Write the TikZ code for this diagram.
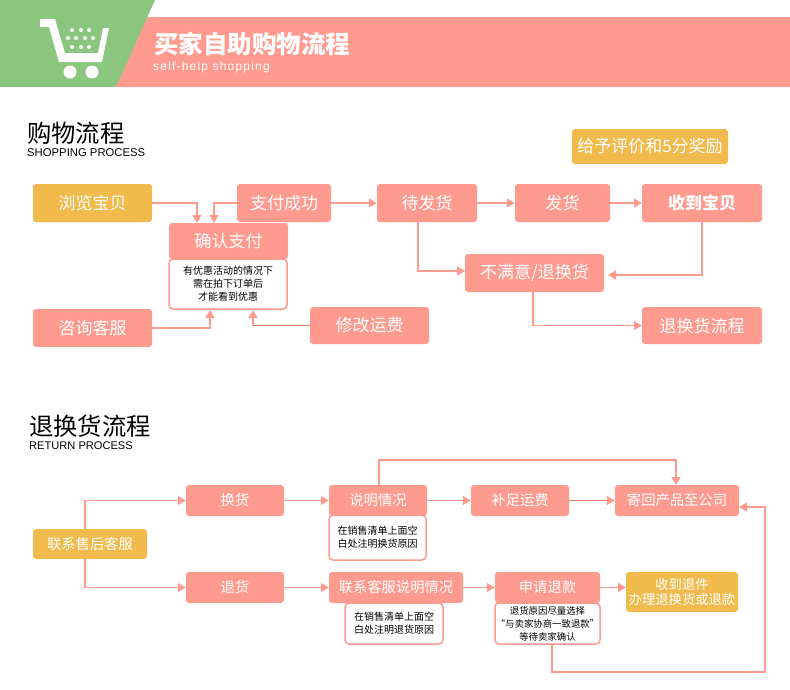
\documentclass[tikz,border=0pt]{standalone}
\usepackage{fontspec}
\setmainfont{Noto Sans CJK SC}
\newfontfamily\latinsans{Liberation Sans}
\usetikzlibrary{arrows.meta,positioning}
\definecolor{salmon}{HTML}{FF9A8F}
\definecolor{leaf}{HTML}{8BC67E}
\definecolor{gold}{HTML}{F0BB4C}
\definecolor{deep}{HTML}{F8786C}
\newcommand{\pxfs}[1]{\fontsize{#1}{#1}\selectfont}
\tikzset{
  x=1pt,y=-1pt,
  flowbox/.style={fill=salmon,rounded corners=3pt,text=white,inner sep=0pt,align=center,font=\pxfs{17}},
  goldbox/.style={flowbox,fill=gold},
  smallbox/.style={flowbox,font=\pxfs{14.3}},
  goldsmall/.style={goldbox,font=\pxfs{14.3}},
  donebox/.style={goldbox,font=\fontsize{13.3}{15}\selectfont},
  notebox/.style={draw=salmon,line width=1.5pt,fill=white,rounded corners=4pt,text=black,inner sep=0pt,align=center,font=\fontsize{10}{13}\selectfont},
  notetight/.style={notebox,font=\fontsize{9.4}{13}\selectfont},
  arr/.style={draw=salmon,line width=1.5pt,-{Triangle[length=8pt,width=9pt]}},
  dark/.style={draw=deep,line width=1.5pt},
}
% box macro: name, style, x0, y0, x1, y1, text
\newcommand{\bx}[7]{\node[#2,minimum width=#5pt-#3pt,minimum height=#6pt-#4pt] (#1) at ({(#3+#5)/2},{(#4+#6)/2}) {#7};}
\begin{document}
\begin{tikzpicture}
\useasboundingbox (0,0) rectangle (790,689);
% header
\fill[salmon] (145,17) -- (790,17) -- (790,87) -- (116,87) -- cycle;
\fill[leaf] (0,0) -- (155,0) -- (116,87) -- (0,87) -- cycle;
% cart
\fill[white] (40,19) -- (55,19) -- (65,53) -- (98,53) -- (103,28) -- (109,28) -- (102,62) -- (59,62) -- (49,27) -- (40,27) -- cycle;
\fill[white] (70,72) circle (6.5);
\fill[white] (92,72) circle (6.5);
\foreach \p in {(72,30),(81,30),(89,30),(68,38),(76,38),(85,38),(93,38),(72,47),(81,47),(89,47)} \fill[white] \p circle (2);
\node[anchor=west,text=white,inner sep=0pt,font=\pxfs{24.5}\bfseries] (title) at (154,44) {买家自助购物流程};
\node[anchor=west,text=white,inner sep=0pt,font=\latinsans\pxfs{12}] (sub) at (153,67) {\addfontfeatures{LetterSpace=10}self-help shopping};
% section headings
\node[anchor=west,inner sep=0pt,font=\pxfs{24.3}] (h1) at (27,133) {购物流程};
\node[anchor=west,inner sep=0pt,font=\latinsans\pxfs{11.3}] (h1e) at (27,153) {SHOPPING PROCESS};
\node[anchor=west,inner sep=0pt,font=\pxfs{24.3}] (h2) at (29,426) {退换货流程};
\node[anchor=west,inner sep=0pt,font=\latinsans\pxfs{11.1}] (h2e) at (29,446) {RETURN PROCESS};
% top flow
\bx{browse}{goldbox}{33}{184}{152}{222}{浏览宝贝}
\bx{paid}{flowbox}{237}{184}{331}{222}{支付成功}
\bx{wait}{flowbox}{377}{184}{477}{222}{待发货}
\bx{ship}{flowbox}{515}{184}{610}{222}{发货}
\bx{recv}{flowbox}{642}{184}{762}{222}{\bfseries 收到宝贝}
\bx{rate}{goldbox}{572}{129}{728}{164}{给予评价和5分奖励}
\bx{note}{notebox}{169}{259}{287}{309}{有优惠活动的情况下\\需在拍下订单后\\才能看到优惠}
\bx{confirm}{flowbox}{169}{223}{288}{259}{确认支付}
\bx{ask}{flowbox}{33}{309}{152}{347}{咨询客服}
\bx{fee}{flowbox}{310}{307}{429}{344}{修改运费}
\bx{unhappy}{flowbox}{465}{254}{604}{292}{不满意/退换货}
\bx{retproc}{flowbox}{642}{307}{762}{344}{退换货流程}
% return flow
\bx{contact}{goldsmall}{33}{529}{147}{559}{联系售后客服}
\bx{swap}{smallbox}{186}{485}{284}{516}{换货}
\bx{refund}{smallbox}{186}{572}{284}{603}{退货}
\bx{noteA}{notebox}{329}{515}{426}{560}{在销售清单上面空\\白处注明换货原因}
\bx{explain}{smallbox}{329}{485}{427}{516}{说明情况}
\bx{topup}{smallbox}{471}{485}{569}{516}{补足运费}
\bx{sendback}{smallbox}{615}{485}{739}{516}{寄回产品至公司}
\bx{noteB}{notebox}{345}{603}{443}{644}{在销售清单上面空\\白处注明退货原因}
\bx{call}{smallbox}{329}{572}{463}{603}{联系客服说明情况}
\bx{noteC}{notetight}{495}{603}{600}{644}{退货原因尽量选择\\“与卖家协商一致退款”\\等待卖家确认}
\bx{apply}{smallbox}{495}{572}{600}{603}{申请退款}
\bx{done}{donebox}{626}{572}{738}{612}{收到退件\\办理退换货或退款}
% connector ends
\coordinate (c1) at (197,223);
\coordinate (c2) at (214,223);
\coordinate (c3) at (210,310);
\coordinate (c4) at (253,310);
\coordinate (c5) at (418,222);
\coordinate (c6) at (465,271);
\coordinate (c7) at (702,222);
\coordinate (c8) at (608,275);
\coordinate (c9) at (533,292);
\coordinate (c10) at (85,529);
\coordinate (c11) at (85,559);
\coordinate (c12) at (379,485);
\coordinate (c13) at (676,485);
\coordinate (c14) at (552,645);
\coordinate (c15) at (739,507);
\coordinate (c16) at (552,672);
\coordinate (c17) at (765,672);
\coordinate (c18) at (379,460);
\coordinate (c19) at (676,460);
\coordinate (c20) at (765,507);
\coordinate (c21) at (253,328);
\coordinate (c22) at (626,587.5);
% connectors top
\draw[arr] (browse.east) -| (c1);
\draw[arr] (paid.west) -| (c2);
\draw[arr] (paid.east) -- (wait.west);
\draw[arr] (wait.east) -- (ship.west);
\draw[arr] (ship.east) -- (recv.west);
\draw[arr] (c5) |- (c6);
\draw[arr] (c7) |- (c8);
\draw[arr] (c9) |- (retproc.west);
\draw[arr] (ask.east) -| (c3);
\draw[arr] (fee.west) -| (c4);
\draw[dark] (fee.west) -- (fee.west -| c21);
% connectors return
\draw[arr] (c10) |- (swap.west);
\draw[arr] (c11) |- (refund.west);
\draw[arr] (swap.east) -- (explain.west);
\draw[arr] (explain.east) -- (topup.west);
\draw[arr] (topup.east) -- (sendback.west);
\draw[dark] (topup.east) -- ++(35,0);
\draw[arr] (c12) -- (c18) -- (c19) -- (c13);
\draw[arr] (refund.east) -- (call.west);
\draw[arr] (call.east) -- (apply.west);
\draw[arr] (apply.east) -- (c22);
\draw[arr] (c14) -- (c16) -- (c17) -- (c20) -- (c15);
\end{tikzpicture}
\end{document}
